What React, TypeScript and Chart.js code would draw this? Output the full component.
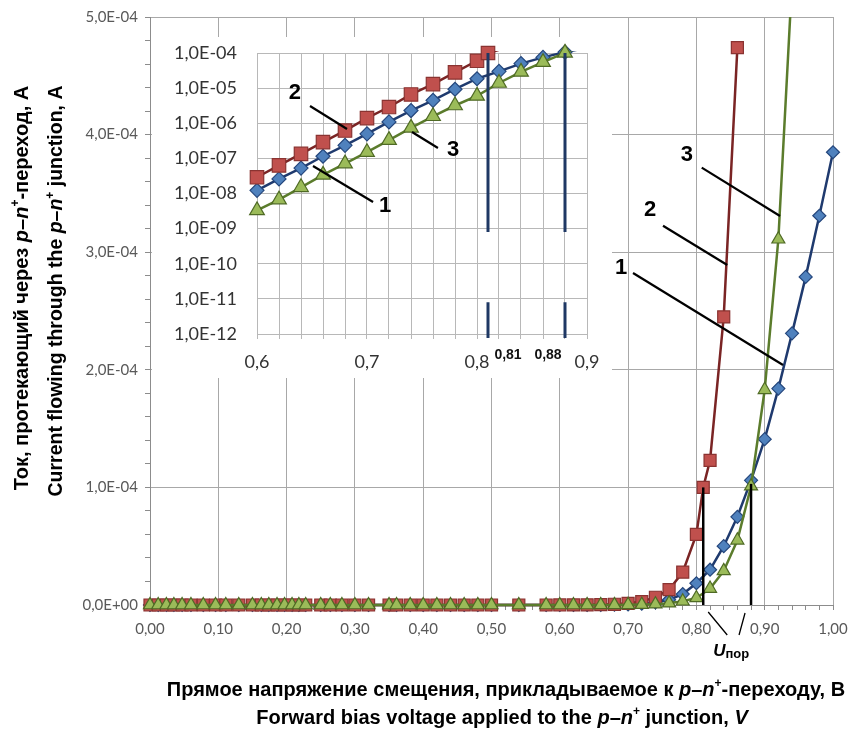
import { useEffect, useRef } from 'react';
import { Chart, registerables } from 'chart.js';
Chart.register(...registerables);

// ---------- data ----------
const lowVoltage = [0, 0.012, 0.024, 0.035, 0.047, 0.06, 0.078, 0.096, 0.111, 0.13, 0.15, 0.163, 0.174, 0.186, 0.197, 0.208, 0.218, 0.228, 0.25, 0.264, 0.281, 0.3, 0.32, 0.35, 0.361, 0.381, 0.4, 0.42, 0.44, 0.46, 0.48, 0.5, 0.54, 0.58];
const lowCurrent = [0, 0, 0, 0, 0, 0, 0, 0, 0, 0, 0, 0, 0, 0, 0, 0, 0, 0, 0, 0, 0, 0, 0, 0, 0, 0, 0, 0, 0, 0, 0, 0, 0, 0];
const highVoltage = [0.6, 0.62, 0.64, 0.66, 0.68, 0.7, 0.72, 0.74, 0.76, 0.78, 0.8, 0.81, 0.82, 0.84, 0.86, 0.88, 0.9, 0.92, 0.94, 0.96, 0.98, 1.0];
const current1 = [1.23e-8, 2.6e-8, 5.3e-8, 1.15e-7, 2.35e-7, 5.0e-7, 1.09e-6, 2.3e-6, 4.5e-6, 9.3e-6, 1.85e-5, null, 3.0e-5, 5.0e-5, 7.5e-5, 1.06e-4, 1.41e-4, 1.84e-4, 2.31e-4, 2.79e-4, 3.31e-4, 3.85e-4];
const current2 = [2.9e-8, 6.3e-8, 1.34e-7, 2.9e-7, 6.2e-7, 1.4e-6, 2.9e-6, 6.6e-6, 1.3e-5, 2.8e-5, 6.0e-5, 1.0e-4, 1.23e-4, 2.45e-4, 4.74e-4, null, null, null, null, null, null, null];
const current3 = [3.3e-9, 6.7e-9, 1.5e-8, 3.4e-8, 7.1e-8, 1.5e-7, 3.3e-7, 7.4e-7, 1.58e-6, 3.2e-6, 6.0e-6, null, 1.4e-5, 2.9e-5, 5.5e-5, 1.01e-4, 1.83e-4, 3.11e-4, 5.3e-4, null, null, null];

const thresholdVoltage = [0.81, 0.88];
const thresholdCurrent = [1.0e-4, 1.03e-4];
const insetThresholdValues = ['0,81', '0,88'];

// annotation anchors in data units: [label, textX, textY, fromX, fromY, toX, toY]
const mainCallouts: [string, number, number, number, number, number, number][] = [
  ['1', 0.6896, 2.866e-4, 0.7072, 2.823e-4, 0.9268, 2.041e-4],
  ['2', 0.7321, 3.359e-4, 0.7511, 3.225e-4, 0.8452, 2.891e-4],
  ['3', 0.786, 3.827e-4, 0.8078, 3.719e-4, 0.9224, 3.308e-4],
];
const insetCallouts: [string, number, number, number, number, number, number][] = [
  ['1', 0.7164, 4.41e-9, 0.6509, 6.07e-8, 0.7055, 5.73e-9],
  ['2', 0.6345, 7.26e-6, 0.6482, 3.1e-6, 0.6818, 6.86e-7],
  ['3', 0.7782, 1.73e-7, 0.7409, 5.64e-7, 0.7645, 1.97e-7],
];

// ---------- helpers ----------
type Pt = { x: number; y: number };
function toPoints(xs: number[], ys: (number | null)[]): Pt[] {
  const out: Pt[] = [];
  xs.forEach((x, i) => { const y = ys[i]; if (y !== null && y !== undefined) out.push({ x, y }); });
  return out;
}
const allVoltage = [...lowVoltage, ...highVoltage];
const series1 = toPoints(allVoltage, [...lowCurrent, ...current1]);
const series2 = toPoints(allVoltage, [...lowCurrent, ...current2]);
const series3 = toPoints(allVoltage, [...lowCurrent, ...current3]);

function sci(v: number): string {
  if (v === 0) return '0,0E+00';
  const e = Math.floor(Math.log10(v) + 1e-9);
  const m = v / Math.pow(10, e);
  return `${m.toFixed(1).replace('.', ',')}E${e < 0 ? '-' : '+'}${String(Math.abs(e)).padStart(2, '0')}`;
}

type Seg = { t: string; i?: boolean; sup?: boolean; sub?: boolean; size?: number };
const TITLE_FONT = '"Liberation Sans", Arial, sans-serif';
function drawRich(ctx: CanvasRenderingContext2D, segs: Seg[], x: number, y: number, size: number) {
  const fontFor = (s: Seg) => {
    const sz = s.size ?? (s.sup || s.sub ? Math.round(size * 0.62) : size);
    return `${s.i ? 'italic ' : ''}bold ${sz}px ${TITLE_FONT}`;
  };
  let total = 0;
  for (const s of segs) { ctx.font = fontFor(s); total += ctx.measureText(s.t).width; }
  let cx = x - total / 2;
  ctx.textAlign = 'left';
  ctx.textBaseline = 'middle';
  ctx.fillStyle = '#000';
  for (const s of segs) {
    ctx.font = fontFor(s);
    const dy = s.sup ? -size * 0.33 : s.sub ? size * 0.22 : 0;
    ctx.fillText(s.t, cx, y + dy);
    cx += ctx.measureText(s.t).width;
  }
}

const noPad = (s: any) => { s.paddingLeft = 0; s.paddingRight = 0; s.paddingTop = 0; s.paddingBottom = 0; };

const BLUE_LINE = '#1f3a6e', BLUE_FILL = '#4f81bd', BLUE_EDGE = '#24467c';
const RED_LINE = '#7a2424', RED_FILL = '#c0504d', RED_EDGE = '#8a3331';
const GREEN_LINE = '#5b7c2c', GREEN_FILL = '#9bbb59', GREEN_EDGE = '#4f6a25';
const TICK_FONT = 'Lato, "Open Sans", sans-serif';

// ---------- main chart ----------
const mainPlugin = {
  id: 'mainAnnot',
  afterDatasetsDraw(chart: any) {
    const { ctx, scales } = chart;
    const x = scales.x, y = scales.y;
    const px = (v: number) => x.getPixelForValue(v);
    const py = (v: number) => y.getPixelForValue(v);
    ctx.save();
    ctx.lineCap = 'butt';
    ctx.strokeStyle = '#000';
    ctx.lineWidth = 2.5;
    thresholdVoltage.forEach((v, i) => {
      ctx.beginPath();
      ctx.moveTo(px(v), py(thresholdCurrent[i]));
      ctx.lineTo(px(v), y.bottom);
      ctx.stroke();
    });
    ctx.lineWidth = 2.2;
    for (const c of mainCallouts) {
      ctx.beginPath();
      ctx.moveTo(px(c[3]), py(c[4]));
      ctx.lineTo(px(c[5]), py(c[6]));
      ctx.stroke();
      ctx.font = `bold 22px ${TITLE_FONT}`;
      ctx.fillStyle = '#000';
      ctx.textAlign = 'center';
      ctx.textBaseline = 'middle';
      ctx.fillText(c[0], px(c[1]), py(c[2]));
    }
    ctx.restore();
  },
  afterDraw(chart: any) {
    const { ctx, scales } = chart;
    const x = scales.x, y = scales.y;
    const px = (v: number) => x.getPixelForValue(v);
    ctx.save();
    ctx.strokeStyle = '#000';
    ctx.lineWidth = 1.3;
    const b = y.bottom;
    ctx.beginPath();
    ctx.moveTo(px(thresholdVoltage[0]) + 5, b + 7);
    ctx.lineTo(px(thresholdVoltage[0]) + 24, b + 30);
    ctx.moveTo(px(thresholdVoltage[1]) - 6, b + 8);
    ctx.lineTo(px(thresholdVoltage[1]) - 12, b + 30);
    ctx.stroke();
    drawRich(ctx, [{ t: 'U', i: true, size: 17 }, { t: 'пор', sub: true, size: 13 }], (px(thresholdVoltage[0]) + px(thresholdVoltage[1])) / 2 + 4, b + 46, 17);
    // x titles
    drawRich(ctx, [
      { t: 'Прямое напряжение смещения, прикладываемое к ' }, { t: 'p', i: true }, { t: '–' }, { t: 'n', i: true }, { t: '+', sup: true }, { t: '-переходу, В' },
    ], 506, 690, 20);
    drawRich(ctx, [
      { t: 'Forward bias voltage applied to the ' }, { t: 'p', i: true }, { t: '–' }, { t: 'n', i: true }, { t: '+', sup: true }, { t: ' junction, ' }, { t: 'V', i: true },
    ], 502, 718, 20);
    // y titles
    ctx.translate(22, 288);
    ctx.rotate(-Math.PI / 2);
    drawRich(ctx, [
      { t: 'Ток, протекающий через ' }, { t: 'p', i: true }, { t: '–' }, { t: 'n', i: true }, { t: '+', sup: true }, { t: '-переход, А' },
    ], 0, 0, 20);
    ctx.rotate(Math.PI / 2);
    ctx.translate(35, 3);
    ctx.rotate(-Math.PI / 2);
    drawRich(ctx, [
      { t: 'Current flowing through the ' }, { t: 'p', i: true }, { t: '–' }, { t: 'n', i: true }, { t: '+', sup: true }, { t: ' junction, A' },
    ], 0, 0, 19.5);
    ctx.restore();
  },
};

function mainConfig(): any {
  const isMajorX = (v: number) => Math.round(v * 100) % 10 === 0;
  const isMajorY = (v: number) => Math.abs(v / 1e-4 - Math.round(v / 1e-4)) < 1e-6;
  const clip = { left: 14, right: 14, top: 0, bottom: 14 };
  return {
    type: 'line',
    data: {
      datasets: [
        { label: '1', data: series1, borderColor: BLUE_LINE, borderWidth: 2.5, pointStyle: 'rectRot', pointRadius: 6.5, pointBackgroundColor: BLUE_FILL, pointBorderColor: BLUE_EDGE, pointBorderWidth: 1.2, order: 2, clip },
        { label: '2', data: series2, borderColor: RED_LINE, borderWidth: 2.5, pointStyle: 'rect', pointRadius: 8.5, pointBackgroundColor: RED_FILL, pointBorderColor: RED_EDGE, pointBorderWidth: 1.2, order: 1, clip },
        { label: '3', data: series3, borderColor: GREEN_LINE, borderWidth: 2.5, pointStyle: 'triangle', pointRadius: 7.5, pointBackgroundColor: GREEN_FILL, pointBorderColor: GREEN_EDGE, pointBorderWidth: 1.2, order: 0, clip },
      ],
    },
    options: {
      responsive: false,
      animation: false,
      events: [],
      layout: { padding: { top: 17, right: 17, left: 0, bottom: 0 } },
      plugins: { legend: { display: false }, tooltip: { enabled: false }, title: { display: false } },
      scales: {
        x: {
          type: 'linear', min: 0, max: 1,
          afterBuildTicks: (s: any) => { s.ticks = Array.from({ length: 51 }, (_, i) => ({ value: Math.round(i * 2) / 100 })); },
          afterFit: (s: any) => { s.height = 128; noPad(s); },
          ticks: {
            autoSkip: false, maxRotation: 0, minRotation: 0, padding: 10, color: '#595959',
            font: { family: TICK_FONT, size: 15 },
            callback: (v: number) => (isMajorX(v) ? v.toFixed(2).replace('.', ',') : ''),
          },
          grid: {
            color: (c: any) => (c.tick && isMajorX(c.tick.value) ? '#a8a8a8' : 'rgba(0,0,0,0)'),
            tickColor: '#8c8c8c', tickLength: 5, lineWidth: 1,
          },
          border: { color: '#8c8c8c', width: 1 },
        },
        y: {
          type: 'linear', min: 0, max: 5e-4,
          afterBuildTicks: (s: any) => { s.ticks = Array.from({ length: 26 }, (_, i) => ({ value: i * 2e-5 })); },
          afterFit: (s: any) => { s.width = 150; noPad(s); },
          ticks: {
            autoSkip: false, padding: 7, color: '#595959',
            font: { family: TICK_FONT, size: 15 },
            callback: (v: number) => (isMajorY(v) ? sci(v) : ''),
          },
          grid: {
            color: (c: any) => (c.tick && isMajorY(c.tick.value) ? '#a8a8a8' : 'rgba(0,0,0,0)'),
            tickColor: '#8c8c8c', tickLength: 5, lineWidth: 1,
          },
          border: { color: '#8c8c8c', width: 1 },
        },
      },
    },
    plugins: [mainPlugin],
  };
}

// ---------- inset chart ----------
const insetPlugin = {
  id: 'insetAnnot',
  beforeDraw(chart: any) {
    const { ctx, width, height } = chart;
    ctx.save();
    ctx.fillStyle = '#ffffff';
    ctx.fillRect(0, 0, width, height);
    ctx.restore();
  },
  afterDatasetsDraw(chart: any) {
    const { ctx, scales } = chart;
    const x = scales.x, y = scales.y;
    const px = (v: number) => x.getPixelForValue(v);
    const py = (v: number) => y.getPixelForValue(v);
    ctx.save();
    ctx.strokeStyle = '#1f3864';
    ctx.lineWidth = 3;
    thresholdVoltage.forEach((v) => {
      ctx.beginPath();
      ctx.moveTo(px(v), py(1e-4));
      ctx.lineTo(px(v), py(8e-10));
      ctx.moveTo(px(v), py(8e-12));
      ctx.lineTo(px(v), y.bottom + 4);
      ctx.stroke();
    });
    ctx.strokeStyle = '#000';
    ctx.lineWidth = 2.2;
    for (const c of insetCallouts) {
      ctx.beginPath();
      ctx.moveTo(px(c[3]), py(c[4]));
      ctx.lineTo(px(c[5]), py(c[6]));
      ctx.stroke();
      ctx.font = `bold 22px ${TITLE_FONT}`;
      ctx.fillStyle = '#000';
      ctx.textAlign = 'center';
      ctx.textBaseline = 'middle';
      ctx.fillText(c[0], px(c[1]), py(c[2]));
    }
    ctx.font = `bold 14px ${TITLE_FONT}`;
    ctx.fillStyle = '#111';
    ctx.textBaseline = 'middle';
    ctx.textAlign = 'center';
    ctx.fillText(insetThresholdValues[0], px(thresholdVoltage[0]) + 20, y.bottom + 21);
    ctx.fillText(insetThresholdValues[1], px(thresholdVoltage[1]) - 17, y.bottom + 21);
    ctx.restore();
  },
};

function insetConfig(): any {
  const pick = (pts: Pt[]) => pts.filter((p) => p.x >= 0.6);
  const lineClip = { left: 2, right: 2, top: 2, bottom: 2 };
  const rad = (r: number) => (c: any) => (c.raw && c.raw.y > 1.1e-4 ? 0 : r);
  const lineDs = (data: Pt[], color: string, order: number) => ({ data: pick(data), borderColor: color, borderWidth: 2.5, pointRadius: 0, order, clip: lineClip });
  const ptDs = (data: Pt[], style: string, r: number, fill: string, edge: string, order: number) => ({
    data: pick(data), showLine: false, pointStyle: style, pointRadius: rad(r), pointBackgroundColor: fill, pointBorderColor: edge, pointBorderWidth: 1.2, order, clip: false,
  });
  return {
    type: 'line',
    data: {
      datasets: [
        lineDs(series1, BLUE_LINE, 5), ptDs(series1, 'rectRot', 7, BLUE_FILL, BLUE_EDGE, 4),
        lineDs(series2, RED_LINE, 3), ptDs(series2, 'rect', 9.5, RED_FILL, RED_EDGE, 2),
        lineDs(series3, GREEN_LINE, 1), ptDs(series3, 'triangle', 8.5, GREEN_FILL, GREEN_EDGE, 0),
      ],
    },
    options: {
      responsive: false,
      animation: false,
      events: [],
      layout: { padding: { top: 16, right: 25, left: 0, bottom: 0 } },
      plugins: { legend: { display: false }, tooltip: { enabled: false }, title: { display: false } },
      scales: {
        x: {
          type: 'linear', min: 0.6, max: 0.9,
          afterBuildTicks: (s: any) => { s.ticks = Array.from({ length: 16 }, (_, i) => ({ value: Math.round(60 + i * 2) / 100 })); },
          afterFit: (s: any) => { s.height = 44; noPad(s); },
          ticks: {
            autoSkip: false, maxRotation: 0, minRotation: 0, padding: 12, color: '#333333',
            font: { family: TICK_FONT, size: 18 },
            callback: (v: number) => (Math.round(v * 100) % 10 === 0 ? v.toFixed(1).replace('.', ',') : ''),
          },
          grid: { color: '#b8b8b8', tickColor: '#b8b8b8', tickLength: 5, lineWidth: 1 },
          border: { color: '#b8b8b8', width: 1 },
        },
        y: {
          type: 'logarithmic', min: 1e-12, max: 1e-4,
          afterBuildTicks: (s: any) => { s.ticks = Array.from({ length: 9 }, (_, i) => ({ value: Math.pow(10, -12 + i) })); },
          afterFit: (s: any) => { s.width = 105; noPad(s); },
          ticks: {
            autoSkip: false, padding: 20, color: '#333333',
            font: { family: TICK_FONT, size: 18 },
            callback: (v: number) => sci(v),
          },
          grid: { color: '#b8b8b8', drawTicks: false, lineWidth: 1 },
          border: { color: '#b8b8b8', width: 1 },
        },
      },
    },
    plugins: [insetPlugin],
  };
}

export default function App() {
  const mainRef = useRef<HTMLCanvasElement>(null);
  const insetRef = useRef<HTMLCanvasElement>(null);
  useEffect(() => {
    const main = new Chart(mainRef.current as HTMLCanvasElement, mainConfig());
    const inset = new Chart(insetRef.current as HTMLCanvasElement, insetConfig());
    return () => { main.destroy(); inset.destroy(); };
  }, []);
  return (
    <div style={{ position: 'absolute', left: 0, top: 0, width: 850, height: 733, background: '#ffffff' }}>
      <canvas ref={mainRef} width={850} height={733} style={{ position: 'absolute', left: 0, top: 0 }} />
      <canvas ref={insetRef} width={460} height={341} style={{ position: 'absolute', left: 152, top: 37 }} />
    </div>
  );
}
